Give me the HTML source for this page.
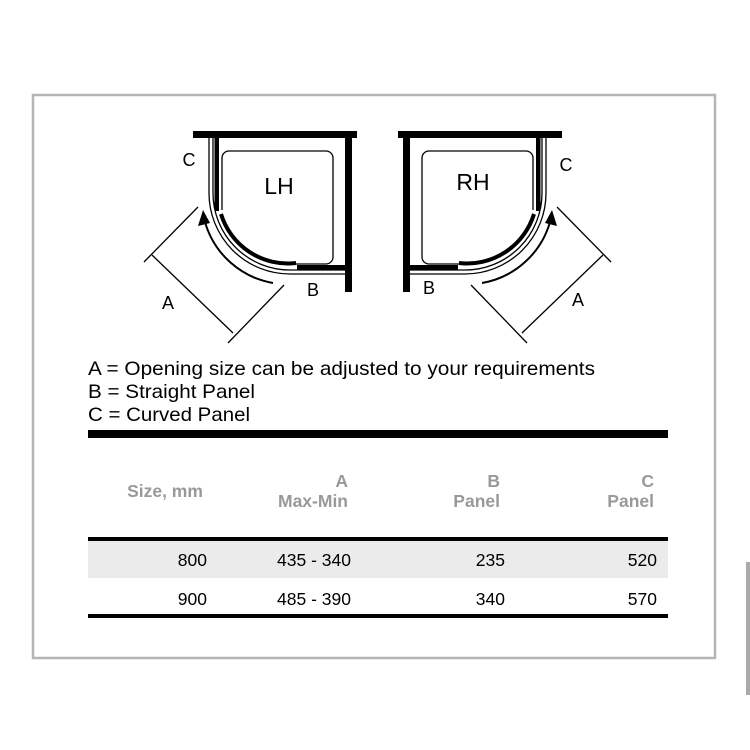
<!DOCTYPE html>
<html><head><meta charset="utf-8"><style>
html,body{margin:0;padding:0;background:#fff;}
svg{display:block;}
text{font-family:"Liberation Sans",Arial,sans-serif;}
</style></head><body>
<svg width="750" height="750" viewBox="0 0 750 750" xmlns="http://www.w3.org/2000/svg">
<rect x="0" y="0" width="750" height="750" fill="#fff"/>
<rect x="33" y="95" width="682" height="563" fill="none" stroke="#b5b5b5" stroke-width="2.5"/>
<rect x="746" y="562" width="4" height="133" fill="#aaa"/>
<defs>
<g id="enc">
  <rect x="193" y="131" width="164" height="7" fill="#000"/>
  <rect x="345" y="131" width="7" height="161" fill="#000"/>
  <path d="M222 210 V158 A7 7 0 0 1 229 151 H326 A7 7 0 0 1 333 158 V257 A7 7 0 0 1 326 264 H296" fill="none" stroke="#000" stroke-width="1.3"/>
  <path d="M209 138 V193 A81 81 0 0 0 290 274 H345" fill="none" stroke="#000" stroke-width="1.3"/>
  <path d="M213 138 V193 A77 77 0 0 0 290 270 H345" fill="none" stroke="#000" stroke-width="1.3"/>
  <rect x="214.5" y="138" width="4.5" height="73" fill="#000"/>
  <path d="M221 214 A70 70 0 0 0 296 263" fill="none" stroke="#000" stroke-width="4"/>
  <rect x="297" y="265" width="48" height="5" fill="#000"/>
  <path d="M273 283 A86 86 0 0 1 205 222" fill="none" stroke="#000" stroke-width="2"/>
  <path d="M203 210 L198 226 L210 223 Z" fill="#000"/>
  <line x1="152" y1="255" x2="233" y2="333" stroke="#000" stroke-width="1.3"/>
  <line x1="144" y1="262" x2="198" y2="207" stroke="#000" stroke-width="1.3"/>
  <line x1="228" y1="343" x2="284" y2="285" stroke="#000" stroke-width="1.3"/>
</g>
</defs>
<use href="#enc"/>
<use href="#enc" transform="translate(755,0) scale(-1,1)"/>
<g font-size="18" fill="#000">
<text x="189" y="166" text-anchor="middle">C</text>
<text x="168" y="309" text-anchor="middle">A</text>
<text x="313" y="296" text-anchor="middle">B</text>
<text x="566" y="171" text-anchor="middle">C</text>
<text x="578" y="306" text-anchor="middle">A</text>
<text x="429" y="294" text-anchor="middle">B</text>
</g>
<text x="279" y="194" font-size="23" text-anchor="middle">LH</text>
<text x="473" y="190" font-size="23" text-anchor="middle">RH</text>
<g font-size="19.5" fill="#000">
<text x="88" y="375" textLength="507" lengthAdjust="spacingAndGlyphs">A = Opening size can be adjusted to your requirements</text>
<text x="88" y="398" textLength="167" lengthAdjust="spacingAndGlyphs">B = Straight Panel</text>
<text x="88" y="421" textLength="162" lengthAdjust="spacingAndGlyphs">C = Curved Panel</text>
</g>
<rect x="88" y="430" width="580" height="8" fill="#000"/>
<rect x="88" y="541" width="580" height="37" fill="#ebebeb"/>
<rect x="88" y="537" width="580" height="4" fill="#000"/>
<rect x="88" y="614" width="580" height="4" fill="#000"/>
<g font-size="17.5" font-weight="bold" fill="#999">
<text x="165" y="497" text-anchor="middle">Size, mm</text>
<text x="348" y="487" text-anchor="end">A</text>
<text x="348" y="507" text-anchor="end">Max-Min</text>
<text x="500" y="487" text-anchor="end">B</text>
<text x="500" y="507" text-anchor="end">Panel</text>
<text x="654" y="487" text-anchor="end">C</text>
<text x="654" y="507" text-anchor="end">Panel</text>
</g>
<g font-size="17.5" fill="#000" text-anchor="end">
<text x="207" y="566">800</text>
<text x="351" y="566">435 - 340</text>
<text x="505" y="566">235</text>
<text x="657" y="566">520</text>
<text x="207" y="605">900</text>
<text x="351" y="605">485 - 390</text>
<text x="505" y="605">340</text>
<text x="657" y="605">570</text>
</g>
</svg>
</body></html>
